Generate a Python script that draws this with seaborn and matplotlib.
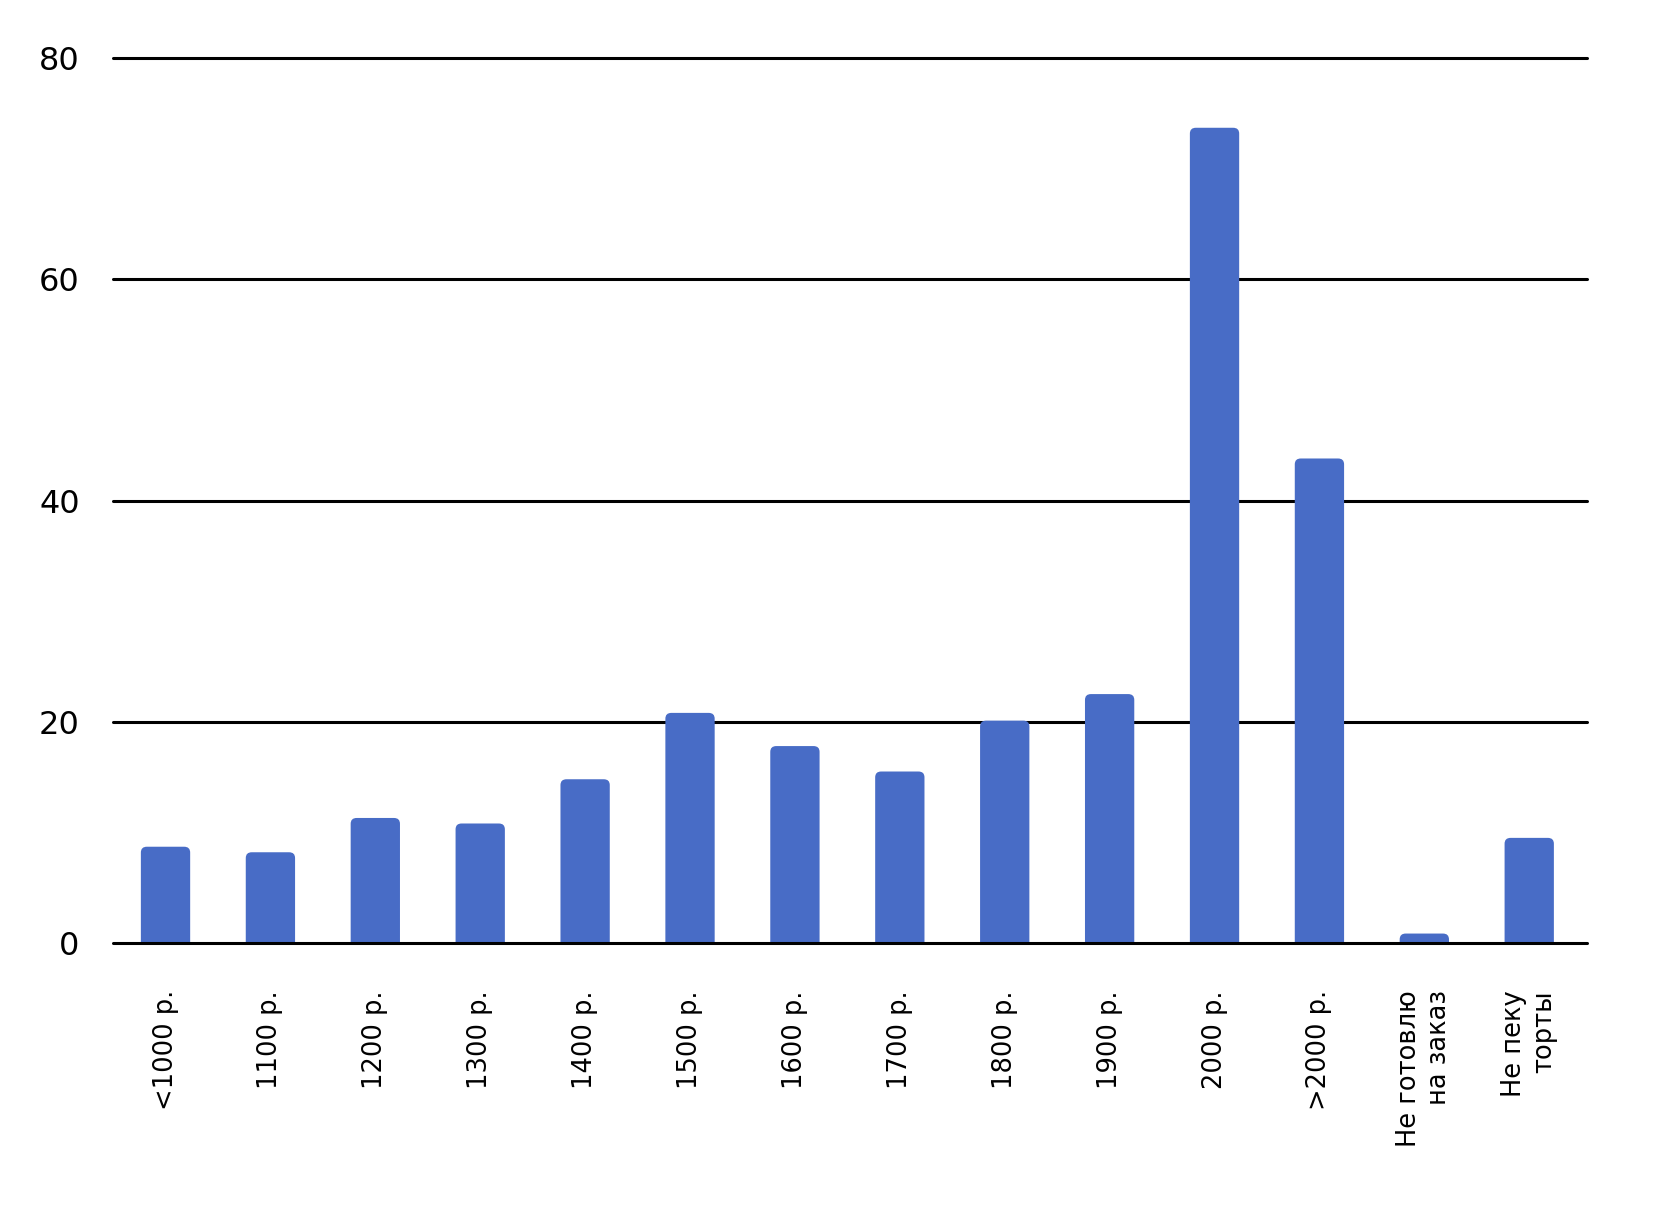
import matplotlib
matplotlib.use("Agg")
import matplotlib.pyplot as plt
import seaborn as sns
import pandas as pd
from matplotlib.patches import FancyBboxPatch

categories = ["<1000 р.", "1100 р.", "1200 р.", "1300 р.", "1400 р.", "1500 р.",
              "1600 р.", "1700 р.", "1800 р.", "1900 р.", "2000 р.", ">2000 р.",
              "Не готовлю\nна заказ", "Не пеку\nторты"]
values = [8.7, 8.2, 11.3, 10.8, 14.8, 20.8, 17.8, 15.5, 20.1, 22.5, 73.7, 43.8, 0.85, 9.5]
y_ticks = [0, 20, 40, 60, 80]

bar_color = "#486CC6"

sns.set_theme(style="white")
plt.rcParams['font.family'] = ['DejaVu Sans']

df = pd.DataFrame({"cat": categories, "val": values})

fig = plt.figure(figsize=(16.8, 12.1), dpi=100)
ax = fig.add_axes([0.0673, 0.2207, 0.8773, 0.7313])

sns.barplot(data=df, x="cat", y="val", color=bar_color, saturation=1,
            width=0.47, ax=ax, zorder=2)

# rounded tops
fig.canvas.draw()
px_x = ax.transData.transform((1, 0))[0] - ax.transData.transform((0, 0))[0]
px_y = ax.transData.transform((0, 1))[1] - ax.transData.transform((0, 0))[1]
r_px = 6.0
for p in list(ax.patches):
    x0, y0 = p.get_x(), p.get_y()
    w, h = p.get_width(), p.get_height()
    p.set_visible(False)
    r_x = r_px / px_x
    ext = 2 * r_px / px_y
    fb = FancyBboxPatch((x0, y0 - ext), w, h + ext,
                        boxstyle=f"round,pad=0,rounding_size={r_x}",
                        mutation_aspect=px_x / px_y,
                        facecolor=bar_color, edgecolor="none", zorder=2)
    ax.add_patch(fb)

ax.set_ylim(0, 80)
ax.set_xlim(-0.5, 13.55)
ax.set_yticks(y_ticks)
ax.set_yticklabels([str(t) for t in y_ticks], fontsize=23)
for t in y_ticks[1:]:
    ax.axhline(t, color="black", lw=2.2, zorder=1, clip_on=False)
ax.axhline(0, color="black", lw=2.2, zorder=3, clip_on=False)

ax.set_xlabel("")
ax.set_ylabel("")
ax.tick_params(axis="y", length=0, pad=24, colors="black")
ax.tick_params(axis="x", length=0, pad=34, colors="black")
for lab in ax.get_xticklabels():
    lab.set_rotation(90)
    lab.set_fontsize(18.5)
    lab.set_va("top")
    lab.set_ha("center")
    lab.set_multialignment("right")
for s in ax.spines.values():
    s.set_visible(False)

fig.savefig("out.png", dpi=100, facecolor="white")
